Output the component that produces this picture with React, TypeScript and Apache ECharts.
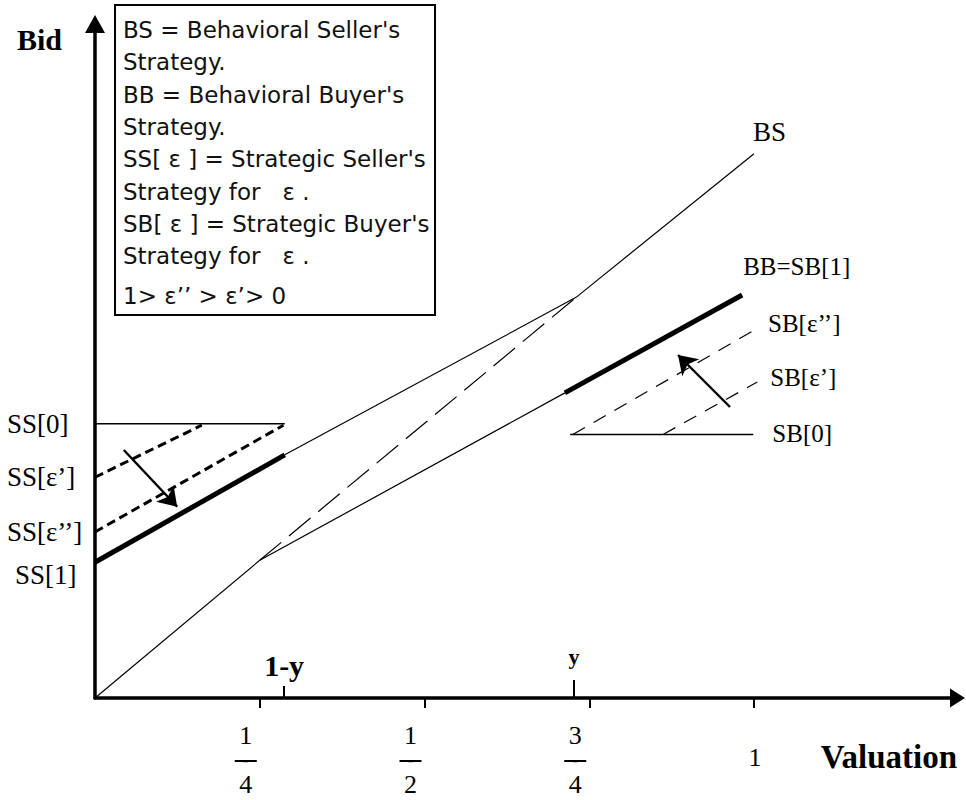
import React, { useEffect, useRef } from "react";
import * as echarts from "echarts";

// ---- axis ticks and labels ----
const xTickValues = [0.25, 0.5, 0.75, 1];
const xTickLabels = ["1/4", "1/2", "3/4", "1"];
const paramTickValues = [0.287, 0.727];
const paramTickLabels = ["1-y", "y"];
const ssLabelValues = [0.416, 0.335, 0.252, 0.206];
const ssLabelTexts = ["SS[0]", "SS[ε’]", "SS[ε’’]", "SS[1]"];

// ---- strategy lines [valuation, bid] ----
const bsLower = [[0, 0], [0.25, 0.209]];
const bsMiddle = [[0.25, 0.209], [0.73, 0.608]];
const bsUpper = [[0.73, 0.608], [1.0, 0.826]];
const ss1Line = [[0, 0.206], [0.288, 0.369]];
const ss1Extension = [[0.288, 0.369], [0.73, 0.608]];
const ss0Line = [[0, 0.416], [0.288, 0.416]];
const ssEps1Line = [[0, 0.335], [0.162, 0.414]];
const ssEps2Line = [[0, 0.252], [0.286, 0.414]];
const bbLower = [[0.25, 0.209], [0.713, 0.463]];
const bbLine = [[0.713, 0.463], [0.982, 0.6115]];
const sb0Line = [[0.721, 0.4], [0.999, 0.4]];
const sbEps2Line = [[0.725, 0.4], [1.0, 0.558]];
const sbEps1Line = [[0.862, 0.4], [1.005, 0.4795]];
const sellerArrow = [[0.0437, 0.3763], [0.1247, 0.2903]];
const buyerArrow = [[0.9636, 0.4416], [0.8847, 0.5205]];

const legendLines = [
  "BS = Behavioral Seller's",
  "Strategy.",
  "BB = Behavioral Buyer's",
  "Strategy.",
  "SS[ ε ] = Strategic Seller's",
  "Strategy for   ε .",
  "SB[ ε ] = Strategic Buyer's",
  "Strategy for   ε .",
  "1> ε’’ > ε’> 0",
];

const SERIF = "Liberation Serif";
const SANS = "DejaVu Sans";

function nearestIndex(values: number[], v: number) {
  let best = 0;
  for (let i = 1; i < values.length; i++) {
    if (Math.abs(values[i] - v) < Math.abs(values[best] - v)) best = i;
  }
  return best;
}

function seg(
  data: number[][],
  width: number,
  type: any = "solid",
  endLabel?: { text: string; offset: number[]; size: number }
) {
  const s: any = {
    type: "line",
    data,
    symbol: "none",
    showSymbol: false,
    silent: true,
    lineStyle: { color: "#000", width, type, cap: "butt" },
  };
  if (endLabel) {
    s.endLabel = {
      show: true,
      formatter: endLabel.text,
      offset: endLabel.offset,
      color: "#000",
      fontFamily: SERIF,
      fontSize: endLabel.size,
    };
  }
  return s;
}

const X_MAX = 1.3088;
const Y_MAX = 1.0228;

export default function App() {
  const ref = useRef<HTMLDivElement>(null);

  useEffect(() => {
    if (!ref.current) return;
    const chart = echarts.init(ref.current, undefined, { renderer: "svg" });

    const baseHiddenAxis = {
      type: "value",
      min: 0,
      max: X_MAX,
      position: "bottom",
      axisLine: { show: false },
      splitLine: { show: false },
    };

    const option: any = {
      animation: false,
      backgroundColor: "#fff",
      textStyle: { fontFamily: SERIF },
      grid: { left: 95, right: 8.5, top: 24, bottom: 102, containLabel: false },
      xAxis: [
        {
          type: "value",
          min: 0,
          max: X_MAX,
          position: "bottom",
          axisLine: {
            show: true,
            onZero: false,
            symbol: ["none", "triangle"],
            symbolSize: [19, 15],
            lineStyle: { color: "#000", width: 3.5 },
          },
          axisTick: {
            show: true,
            length: 10,
            customValues: xTickValues,
            lineStyle: { color: "#000", width: 2 },
          },
          splitLine: { show: false },
          axisLabel: {
            show: true,
            customValues: xTickValues,
            margin: 16,
            color: "#000",
            fontFamily: SERIF,
            formatter: (v: number) => {
              const lab = xTickLabels[nearestIndex(xTickValues, v)];
              if (lab.indexOf("/") >= 0) {
                const [n, d] = lab.split("/");
                return `{num|${n}}{sp| }\n{bar|—}{sp| }\n{den|${d}}{sp| }`;
              }
              return `{one|${lab}}`;
            },
            rich: {
              num: { fontFamily: SERIF, fontSize: 26, lineHeight: 42, color: "#000" },
              den: { fontFamily: SERIF, fontSize: 26, lineHeight: 36, color: "#000" },
              bar: {
                fontFamily: SERIF,
                fontSize: 5,
                color: "#000",
                width: 22,
                height: 2,
                lineHeight: 10,
                align: "center",
                backgroundColor: "#000",
              },
              sp: { width: 28, lineHeight: 8, fontSize: 5 },
              one: { fontFamily: SERIF, fontSize: 26, lineHeight: 86, color: "#000", padding: [0, 0, 0, 2] },
            },
          },
        },
        {
          ...baseHiddenAxis,
          axisTick: {
            show: true,
            inside: true,
            length: 12,
            customValues: [paramTickValues[0]],
            lineStyle: { color: "#000", width: 2 },
          },
          axisLabel: {
            show: true,
            inside: true,
            customValues: [paramTickValues[0]],
            margin: 18,
            color: "#000",
            fontFamily: SERIF,
            fontWeight: "bold",
            fontSize: 30,
            formatter: () => paramTickLabels[0],
          },
        },
        {
          ...baseHiddenAxis,
          axisTick: {
            show: true,
            inside: true,
            length: 18,
            customValues: [paramTickValues[1]],
            lineStyle: { color: "#000", width: 2 },
          },
          axisLabel: {
            show: true,
            inside: true,
            customValues: [paramTickValues[1]],
            margin: 31,
            color: "#000",
            fontFamily: SERIF,
            fontWeight: "bold",
            fontSize: 22,
            formatter: () => paramTickLabels[1],
          },
        },
      ],
      yAxis: {
        type: "value",
        min: 0,
        max: Y_MAX,
        name: "Bid",
        nameLocation: "end",
        nameGap: -15,
        nameTextStyle: {
          fontFamily: SERIF,
          fontWeight: "bold",
          fontSize: 30,
          color: "#000",
          align: "right",
          verticalAlign: "middle",
          padding: [0, 33, 0, 0],
        },
        axisLine: {
          show: true,
          onZero: false,
          symbol: ["none", "triangle"],
          symbolSize: [20, 18],
          lineStyle: { color: "#000", width: 3.5 },
        },
        axisTick: { show: false },
        splitLine: { show: false },
        axisLabel: {
          show: true,
          customValues: ssLabelValues,
          align: "left",
          margin: 88,
          color: "#000",
          fontFamily: SERIF,
          fontSize: 27,
          formatter: (v: number) => {
            const i = nearestIndex(ssLabelValues, v);
            return i === ssLabelValues.length - 1 ? `{low|${ssLabelTexts[i]}}` : ssLabelTexts[i];
          },
          rich: {
            low: { fontFamily: SERIF, fontSize: 27, color: "#000", padding: [26, 0, 0, 8] },
          },
        },
      },
      graphic: [
        {
          type: "rect",
          x: 115,
          y: 5,
          shape: { x: 0, y: 0, width: 320, height: 310 },
          style: { fill: "none", stroke: "#000", lineWidth: 2 },
          silent: true,
        },
        ...legendLines.map((t, i) => ({
          type: "text",
          x: 123,
          y: 30 + i * 32.3 + (i === legendLines.length - 1 ? 8 : 0),
          silent: true,
          style: {
            text: t,
            fontFamily: SANS,
            fontSize: 23,
            fill: "#111",
            align: "left",
            verticalAlign: "middle",
          },
        })),
        {
          type: "text",
          x: 957,
          y: 757,
          silent: true,
          style: {
            text: "Valuation",
            fontFamily: SERIF,
            fontWeight: "bold",
            fontSize: 33,
            fill: "#000",
            align: "right",
            verticalAlign: "middle",
          },
        },
      ],
      series: [
        seg(bsLower, 1.2),
        seg(bsMiddle, 1.2, [28, 10]),
        seg(bsUpper, 1.2, "solid", { text: "BS", offset: [-9, -22], size: 27 }),
        seg(ss1Line, 5),
        seg(ss1Extension, 1.2),
        seg(ss0Line, 1.5),
        seg(ssEps1Line, 3, [9, 5]),
        seg(ssEps2Line, 3, [9, 5]),
        seg(bbLower, 1.2),
        seg(bbLine, 5, "solid", { text: "BB=SB[1]", offset: [-7, -29], size: 25 }),
        seg(sb0Line, 1.5, "solid", { text: "SB[0]", offset: [11, -1], size: 25 }),
        seg(sbEps2Line, 1.2, [14, 10], { text: "SB[ε’’]", offset: [6, -7], size: 25 }),
        seg(sbEps1Line, 1.2, [14, 10], { text: "SB[ε’]", offset: [5, -5], size: 25 }),
        {
          type: "lines",
          coordinateSystem: "cartesian2d",
          silent: true,
          symbol: ["none", "arrow"],
          symbolSize: 18,
          lineStyle: { color: "#000", width: 2.4, opacity: 1, curveness: 0 },
          data: [{ coords: sellerArrow }, { coords: buyerArrow }],
          z: 5,
        },
      ],
    };

    chart.setOption(option);
    return () => chart.dispose();
  }, []);

  return (
    <div
      ref={ref}
      style={{ position: "fixed", left: 0, top: 0, width: 966, height: 800, background: "#fff" }}
    />
  );
}
